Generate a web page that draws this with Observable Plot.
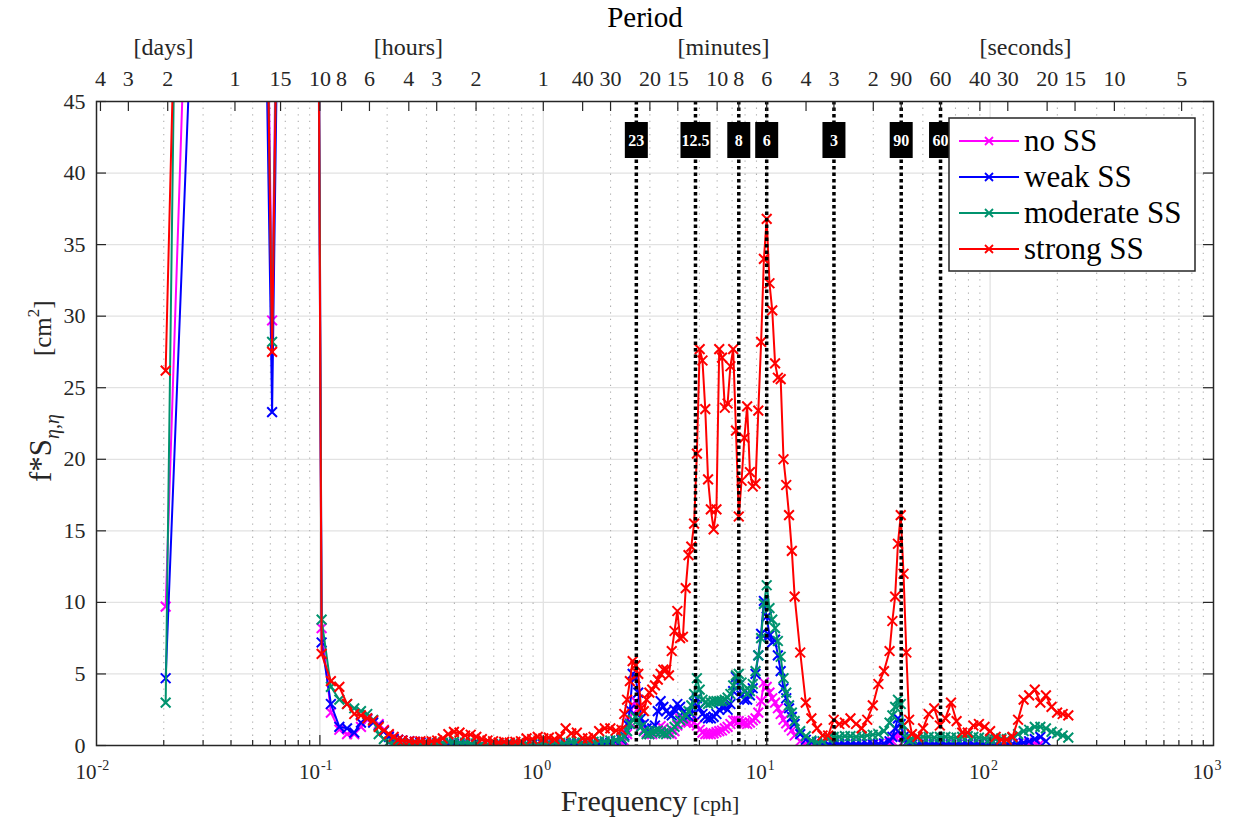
<!DOCTYPE html>
<html><head><meta charset="utf-8">
<script src="https://cdn.jsdelivr.net/npm/d3@7"></script>
<script src="https://cdn.jsdelivr.net/npm/@observablehq/plot@0.6"></script>
<style>
html,body{margin:0;padding:0;background:#fff;overflow:hidden;}
#chart{width:1237px;height:822px;}
</style></head>
<body><div id="chart"></div>
<script>
// ---------------- data ----------------
const freqCph = [
  0.0204, 0.0305, 0.0407, 0.0509, 0.0611, 0.0713, 0.0814, 0.0916, 0.1018, 0.112, 0.1222, 0.1323, 0.1425, 0.1527, 0.1629, 0.1731, 0.1833, 0.1934, 0.2036, 0.2138, 0.224, 0.2341,
  0.2512, 0.2661, 0.2818, 0.2985, 0.3162, 0.335, 0.3548, 0.3758, 0.3981, 0.4217, 0.4467, 0.4732, 0.5012, 0.5309, 0.5623, 0.5957, 0.631, 0.6683, 0.7079, 0.7499, 0.7943, 0.8414, 0.8913, 0.9441, 1.0, 1.059, 1.122, 1.189, 1.259, 1.334, 1.413, 1.496, 1.585, 1.679, 1.778, 1.884, 1.995, 2.113, 2.239,
  2.304, 2.371, 2.441, 2.512, 2.586, 2.661, 2.738, 2.818, 2.901, 2.985, 3.073, 3.162, 3.255, 3.35, 3.447, 3.548, 3.652, 3.758, 3.868, 3.981, 4.097, 4.217, 4.34, 4.467, 4.597, 4.732, 4.87, 5.012, 5.158, 5.309, 5.464, 5.623, 5.788, 5.957, 6.131, 6.31, 6.494, 6.683, 6.879, 7.079, 7.286, 7.499, 7.718, 7.943, 8.175, 8.414, 8.66, 8.913, 9.173, 9.441, 9.716, 10.0, 10.29, 10.59, 10.9, 11.22, 11.55, 11.89, 12.23, 12.59, 12.96, 13.34,
  14.13, 14.96, 15.85, 16.79, 17.78, 18.84, 19.95, 21.13, 22.39, 23.71, 25.12, 26.61, 28.18, 29.85, 31.62, 33.5, 35.48,
  36.52, 37.58, 38.68, 39.81, 40.97, 42.17, 43.4,
  44.67, 47.32, 50.12, 53.09, 56.23, 59.57, 63.1, 66.83, 70.79, 74.99, 79.43, 84.14, 89.13, 94.41, 100, 105.9, 112.2, 118.9, 125.9, 133.4, 141.3, 149.6, 158.5, 167.9, 177.8, 188.4, 199.5, 211.3, 223.9
];

const noSS = [
  9.7, 93, 400, 120, 29.7, 110, 400, 170, 8.2, 2.3, 1.1, 0.8, 0.8, 1.3, 1.8, 1.7, 1.5, 1.1, 0.7, 0.5, 0.4, 0.35,
  0.3, 0.25, 0.2, 0.15, 0.12, 0.1, 0.1, 0.08, 0.08, 0.06, 0.06, 0.05, 0.05, 0.05, 0.05, 0.04, 0.04, 0.04, 0.05, 0.05, 0.05, 0.05, 0.06, 0.06, 0.06, 0.06, 0.07, 0.07, 0.07, 0.08, 0.08, 0.08, 0.08, 0.08, 0.1, 0.1, 0.12, 0.15, 0.2,
  0.3, 0.8, 1.6, 2.8, 3.1, 2.6, 1.4, 1.1, 0.9, 0.8, 0.8, 0.95, 1.15, 1.35, 1.2, 0.95, 0.85, 0.8, 1.0, 1.4, 1.9, 1.8, 1.6, 1.6, 1.75, 1.6, 1.4, 1.1, 0.9, 0.8, 0.8, 0.8, 0.85, 0.93, 1.0, 1.05, 1.2, 1.3, 1.5, 1.75, 1.75, 1.7, 1.6, 1.55, 1.5, 1.6, 1.75, 1.9, 2.3, 3.1, 4.4, 4.1, 3.7, 3.3, 3.0, 2.6, 2.2, 1.8, 1.55, 1.3, 1.05, 0.7,
  0.3, 0.12, 0.06, 0.05, 0.05, 0.05, 0.05, 0.05, 0.05, 0.05, 0.05, 0.05, 0.05, 0.05, 0.06, 0.08, 0.15,
  0.3, 0.6, 1.0, 0.8, 0.3, 0.1, 0.05,
  0.05, 0.05, 0.05, 0.05, 0.05, 0.05, 0.05, 0.05, 0.05, 0.05, 0.05, 0.05, 0.05, 0.05, 0.05, 0.05, 0.06, 0.06, 0.08, 0.1, 0.12, 0.15, 0.18, 0.15
];

const weakSS = [
  4.7, 74.4, 400, 102, 23.3, 100, 400, 150, 7.2, 2.9, 1.3, 1.2, 0.9, 1.6, 1.9, 1.6, 1.4, 1.0, 0.6, 0.45, 0.4, 0.35,
  0.3, 0.25, 0.2, 0.18, 0.15, 0.15, 0.12, 0.12, 0.1, 0.1, 0.1, 0.08, 0.08, 0.08, 0.07, 0.06, 0.06, 0.06, 0.06, 0.07, 0.08, 0.08, 0.08, 0.08, 0.1, 0.1, 0.1, 0.1, 0.1, 0.12, 0.12, 0.1, 0.1, 0.12, 0.15, 0.15, 0.2, 0.3, 0.4,
  0.7, 1.5, 2.5, 5.0, 4.7, 3.7, 1.9, 1.5, 1.2, 1.05, 1.2, 1.4, 2.4, 3.1, 2.7, 2.4, 2.2, 2.1, 2.5, 2.9, 2.7, 2.3, 2.1, 2.05, 2.2, 3.0, 3.3, 2.6, 2.2, 2.0, 1.9, 1.9, 2.0, 2.2, 2.5, 2.7, 2.7, 2.5, 2.9, 3.8, 4.8, 4.2, 3.5, 3.2, 3.2, 3.5, 4.0, 5.0, 6.3, 7.8, 10.1, 9.0, 7.7, 7.2, 7.4, 6.3, 5.2, 4.0, 3.3, 2.6, 2.0, 1.5,
  0.8, 0.4, 0.25, 0.15, 0.1, 0.1, 0.1, 0.1, 0.1, 0.1, 0.1, 0.1, 0.1, 0.1, 0.12, 0.15, 0.3,
  0.6, 1.2, 1.9, 1.5, 0.6, 0.2, 0.1,
  0.1, 0.1, 0.1, 0.1, 0.1, 0.1, 0.1, 0.1, 0.1, 0.1, 0.1, 0.1, 0.1, 0.1, 0.1, 0.1, 0.1, 0.12, 0.12, 0.15, 0.2, 0.3, 0.45, 0.6, 0.3
];

const moderateSS = [
  3.0, 209, 400, 115, 28.2, 105, 400, 165, 8.8, 4.1, 3.2, 2.9, 2.6, 2.4, 2.2, 1.8, 0.8, 0.45, 0.25, 0.15, 0.12, 0.1,
  0.1, 0.1, 0.08, 0.1, 0.12, 0.15, 0.2, 0.25, 0.25, 0.2, 0.2, 0.15, 0.15, 0.12, 0.1, 0.1, 0.08, 0.08, 0.1, 0.1, 0.12, 0.15, 0.15, 0.12, 0.15, 0.2, 0.2, 0.18, 0.2, 0.25, 0.25, 0.2, 0.2, 0.25, 0.3, 0.3, 0.35, 0.4, 0.5,
  0.6, 1.0, 1.5, 1.8, 2.0, 1.8, 1.3, 1.0, 0.8, 0.8, 0.9, 1.0, 1.05, 0.95, 0.85, 0.8, 0.9, 1.1, 1.3, 1.5, 1.75, 1.9, 2.1, 2.4, 2.8, 3.6, 4.7, 3.9, 3.2, 3.0, 2.9, 3.0, 3.1, 3.1, 3.1, 3.1, 3.2, 3.35, 3.6, 4.2, 4.9, 5.0, 4.4, 3.8, 3.6, 3.8, 4.3, 5.2, 6.3, 7.5, 9.9, 11.2, 9.6, 8.8, 8.2, 7.3, 6.2, 4.7, 3.7, 2.8, 2.3, 1.7,
  1.0, 0.65, 0.35, 0.25, 0.3, 0.5, 0.6, 0.6, 0.65, 0.65, 0.6, 0.65, 0.7, 0.75, 0.8, 1.0, 1.6,
  2.1, 2.7, 3.2, 2.9, 1.4, 0.5, 0.35,
  0.45, 0.55, 0.6, 0.6, 0.55, 0.6, 0.6, 0.55, 0.55, 0.6, 0.65, 0.6, 0.55, 0.5, 0.45, 0.45, 0.5, 0.45, 0.55, 0.8, 1.0, 1.1, 1.3, 1.3, 1.2, 0.95, 0.85, 0.7, 0.55
];

const strongSS = [
  26.2, 136, 400, 115, 27.5, 103, 400, 159, 6.4, 4.5, 4.1, 2.9, 2.2, 2.1, 1.9, 1.75, 1.3, 1.05, 0.8, 0.6, 0.4, 0.35,
  0.3, 0.25, 0.3, 0.25, 0.3, 0.35, 0.5, 0.8, 0.95, 0.9, 0.7, 0.75, 0.6, 0.45, 0.35, 0.3, 0.2, 0.25, 0.2, 0.25, 0.3, 0.5, 0.45, 0.6, 0.5, 0.55, 0.45, 0.6, 1.2, 0.85, 0.9, 0.5, 0.5, 0.6, 1.0, 1.2, 1.2, 1.05, 1.1,
  2.2, 3.2, 4.5, 5.9, 5.6, 5.0, 2.6, 2.4, 3.2, 3.7, 3.9, 4.2, 4.6, 5.0, 5.3, 5.3, 4.9, 6.6, 8.0, 9.4, 7.5, 7.6, 11.0, 13.3, 13.9, 15.5, 20.4, 27.7, 26.9, 23.5, 18.6, 16.5, 15.1, 16.5, 27.7, 27.1, 23.6, 23.9, 26.5, 27.7, 22.0, 16.0, 18.5, 21.5, 23.7, 19.1, 18.1, 18.3, 23.4, 28.2, 34.0, 36.8, 32.3, 30.4, 26.7, 25.7, 25.6, 20.0, 18.2, 16.1, 13.6, 10.4,
  6.5, 3.0, 1.9, 1.2, 0.7, 0.7, 1.8, 1.5, 1.6, 1.9, 1.5, 1.2, 1.8, 2.8, 4.3, 5.2, 6.6,
  8.7, 10.4, 14.1, 16.1, 12.0, 6.5, 1.8,
  0.8, 0.6, 1.2, 2.2, 2.6, 1.4, 1.9, 3.0, 1.7, 0.9, 0.9, 1.4, 1.5, 1.3, 1.0, 0.6, 0.4, 0.4, 0.6, 1.8, 3.2, 3.5, 3.9, 3.0, 3.5, 2.7, 2.3, 2.2, 2.1
];

const seriesNames = ["no SS", "weak SS", "moderate SS", "strong SS"];
const seriesColors = ["#ff00ff", "#0000ff", "#00936e", "#ff0000"];

const yTicks = [0, 5, 10, 15, 20, 25, 30, 35, 40, 45];
const decades = [0.01, 0.1, 1, 10, 100, 1000];
const decadeExponents = ["-2", "-1", "0", "1", "2", "3"];

// top axis: periods
const periodTickValue = [4, 3, 2, 1, 15, 10, 8, 6, 4, 3, 2, 1, 40, 30, 20, 15, 10, 8, 6, 4, 3, 2, 90, 60, 40, 30, 20, 15, 10, 5];
const periodTickUnit  = ["d","d","d","d","h","h","h","h","h","h","h","h","m","m","m","m","m","m","m","m","m","m","s","s","s","s","s","s","s","s"];
const unitLabels = ["[days]", "[hours]", "[minutes]", "[seconds]"];

// marked periods (dotted lines)
const markLabel = ["23", "12.5", "8", "6", "3", "90", "60"];
const markUnit  = ["m", "m", "m", "m", "m", "s", "s"];

// ---------------- build ----------------
const hoursPer = {d: 24, h: 1, m: 1 / 60, s: 1 / 3600};
const periodRows = periodTickValue.map((v, i) => ({f: 1 / (v * hoursPer[periodTickUnit[i]]), label: String(v)}));
const markRows = markLabel.map((l, i) => ({f: 1 / (+l * hoursPer[markUnit[i]]), label: l}));
const unitRows = [
  {f: 0.01995, label: unitLabels[0]},
  {f: 0.249, label: unitLabels[1]},
  {f: 6.4, label: unitLabels[2]},
  {f: 144, label: unitLabels[3]}
];
const minorTicks = decades.slice(0, -1).flatMap(d => [2, 3, 4, 5, 6, 7, 8, 9].map(k => k * d));

const allSeries = [noSS, weakSS, moderateSS, strongSS];
const seriesMarks = allSeries.flatMap((vals, s) => {
  const rows = vals.map((v, i) => ({f: freqCph[i], v}));
  return [
    Plot.line(rows, {x: "f", y: "v", stroke: seriesColors[s], strokeWidth: 2, clip: true}),
    Plot.dot(rows, {x: "f", y: "v", symbol: "times", r: 4.5, stroke: seriesColors[s], strokeWidth: 2, clip: true})
  ];
});

const FH = 822 - 101 - 77, FW = 1237 - 96 - 24;
const axisColor = "#262626";

const plot = Plot.plot({
  width: 1237, height: 822,
  marginTop: 101, marginBottom: 77, marginLeft: 96, marginRight: 24,
  x: {type: "log", domain: [0.01, 1000], axis: null},
  y: {domain: [0, 45], axis: null},
  style: {fontFamily: "'Liberation Serif', 'Times New Roman', serif", color: axisColor, background: "white"},
  marks: [
    Plot.ruleY(yTicks.slice(1, -1), {y: d => d, stroke: "#e2e2e2", strokeWidth: 1.3}),
    Plot.ruleX(minorTicks, {x: d => d, stroke: "#b0b0b0", strokeWidth: 1.1, strokeDasharray: "1.3,5.3"}),
    Plot.ruleX(decades.slice(1, -1), {x: d => d, stroke: "#e2e2e2", strokeWidth: 1.3}),
    ...seriesMarks,
    Plot.ruleX(markRows, {x: "f", stroke: "black", strokeWidth: 3.5, strokeDasharray: "3.5,3"}),
    Plot.tickX(markRows.filter(d => d.label.length <= 2), {x: "f", stroke: "black", strokeWidth: 23, insetTop: 21, insetBottom: FH - 57}),
    Plot.tickX(markRows.filter(d => d.label.length > 2), {x: "f", stroke: "black", strokeWidth: 30, insetTop: 21, insetBottom: FH - 57}),
    Plot.text(markRows, {x: "f", text: "label", frameAnchor: "top", lineAnchor: "middle", dy: 39, fill: "white", fontWeight: "bold", fontSize: 16}),
    // ticks
    Plot.tickX(decades.slice(1, -1), {x: d => d, stroke: axisColor, strokeWidth: 1.2, insetTop: FH - 10}),
    Plot.tickX(minorTicks, {x: d => d, stroke: axisColor, strokeWidth: 1.2, insetTop: FH - 5}),
    Plot.tickX(periodRows, {x: "f", stroke: axisColor, strokeWidth: 1.2, insetBottom: FH - 10}),
    Plot.tickY(yTicks, {y: d => d, stroke: axisColor, strokeWidth: 1.2, insetRight: FW - 10}),
    Plot.tickY(yTicks, {y: d => d, stroke: axisColor, strokeWidth: 1.2, insetLeft: FW - 10}),
    Plot.frame({stroke: axisColor, strokeWidth: 1.5}),
    // labels
    Plot.text(yTicks, {y: d => d, text: d => String(d), frameAnchor: "left", lineAnchor: "middle", textAnchor: "end", dx: -11, fontSize: 22, fill: axisColor}),
    Plot.text(decades, {x: d => d, text: () => "10", frameAnchor: "bottom", lineAnchor: "middle", dy: 27, textAnchor: "end", fontSize: 21, fill: axisColor}),
    Plot.text(decades, {x: d => d, text: (d, i) => decadeExponents[i], frameAnchor: "bottom", lineAnchor: "middle", dy: 20, dx: 1, textAnchor: "start", fontSize: 14, fill: axisColor}),
    Plot.text(periodRows, {x: "f", text: "label", frameAnchor: "top", lineAnchor: "middle", dy: -23, fontSize: 22, fill: axisColor}),
    Plot.text(unitRows, {x: "f", text: "label", frameAnchor: "top", lineAnchor: "middle", dy: -54, fontSize: 24, fill: axisColor}),
    Plot.text(["Period"], {text: d => d, frameAnchor: "top", lineAnchor: "middle", dy: -84, dx: -10, fontSize: 29, fill: "black"})
  ]
});

document.getElementById("chart").appendChild(plot);

// axis titles and legend
const svg = d3.select(plot);
const xl = svg.append("text").attr("x", 650).attr("y", 811).attr("text-anchor", "middle").attr("fill", axisColor);
xl.append("tspan").attr("font-size", 30).text("Frequency");
xl.append("tspan").attr("font-size", 22).text(" [cph]");

const yl = svg.append("text").attr("transform", "translate(51,482) rotate(-90)").attr("text-anchor", "start")
  .attr("fill", axisColor).attr("font-size", 31);
yl.append("tspan").text("f*S");
yl.append("tspan").attr("font-size", 20).attr("font-style", "italic").attr("dy", 8).text("η,η");
yl.append("tspan").attr("font-size", 25).attr("dy", -8).attr("dx", 58).text("[cm");
yl.append("tspan").attr("font-size", 17).attr("dy", -12).text("2");
yl.append("tspan").attr("font-size", 25).attr("dy", 12).text("]");

const lg = svg.append("g");
lg.append("rect").attr("x", 949).attr("y", 118).attr("width", 246).attr("height", 153)
  .attr("fill", "white").attr("stroke", axisColor).attr("stroke-width", 1.5);
seriesNames.forEach((name, i) => {
  const y = 141 + 36 * i;
  lg.append("line").attr("x1", 959).attr("x2", 1019).attr("y1", y).attr("y2", y)
    .attr("stroke", seriesColors[i]).attr("stroke-width", 2);
  lg.append("path").attr("d", `M${985},${y - 4}L${993},${y + 4}M${985},${y + 4}L${993},${y - 4}`)
    .attr("stroke", seriesColors[i]).attr("stroke-width", 1.8);
  lg.append("text").attr("x", 1024).attr("y", y + 10).attr("text-anchor", "start")
    .attr("font-size", 31).attr("fill", "black").text(name);
});
</script>
</body></html>
